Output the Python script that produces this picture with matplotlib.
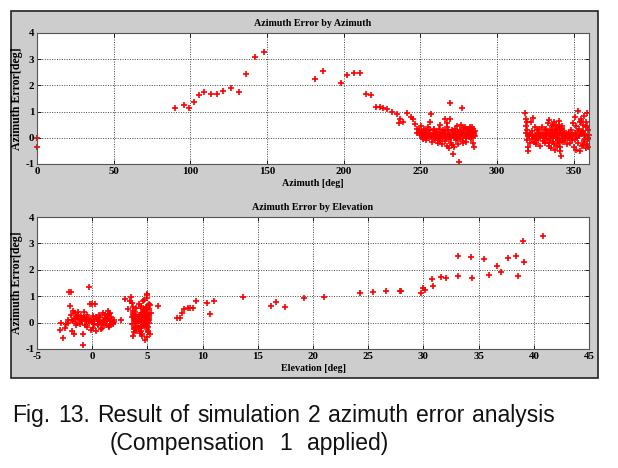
import matplotlib
matplotlib.use("Agg")
from matplotlib import pyplot as plt

plt.rcParams["axes.unicode_minus"] = False

# ---- top plot: azimuth error vs azimuth ----
az_sparse = [0.0, 0.0, 90.2, 95.7, 99.1, 102.2, 105.7, 109.1, 113.3, 117.4, 121.5,
             126.3, 131.5, 136.3, 142.0, 148.0, 181.0, 186.7, 198.0, 202.4, 207.0,
             210.9, 214.8, 217.9, 221.4, 223.7, 225.9, 228.5, 231.8, 234.6, 236.8,
             236.4, 238.6, 241.2, 244.2, 245.1, 246.4, 247.7, 248.1]
err_sparse = [0.0, -0.34, 1.15, 1.27, 1.12, 1.37, 1.64, 1.74, 1.66, 1.68, 1.78,
              1.90, 1.76, 2.44, 3.08, 3.26, 2.26, 2.54, 2.11, 2.39, 2.49,
              2.49, 1.69, 1.62, 1.17, 1.17, 1.15, 1.09, 0.98, 0.91, 0.72,
              0.56, 0.61, 0.94, 0.79, 0.71, 0.51, 0.18, 0.33]

az_a = [249.2, 249.8, 250.3, 250.9, 251.4, 251.8, 252.3, 252.7, 253.1, 253.6, 254.0,
        254.5, 254.9, 255.3, 255.8, 256.2, 256.6, 256.9, 257.3, 257.8, 258.2, 258.6,
        259.1, 259.5, 259.9, 260.4, 260.8, 261.2, 261.7, 262.1, 262.5, 262.9, 263.4,
        263.8, 264.2, 264.6, 265.0, 265.5, 265.9, 266.2, 266.4, 266.8, 267.2, 267.6,
        268.0, 268.4, 268.9, 269.3, 269.5, 269.8, 270.2, 270.6, 271.0, 271.3, 271.7,
        272.1, 272.5, 272.9, 273.3, 273.7, 274.1, 274.5, 275.0, 275.2, 275.6, 276.0,
        276.5, 276.9, 277.3, 277.7, 278.1, 278.5, 278.9, 279.3, 279.7, 280.1, 280.5,
        280.9, 281.3, 281.7, 282.1, 282.5, 282.9, 283.3, 283.7, 284.1, 284.5, 284.8,
        285.1, 285.4, 285.7,
        251.0, 253.0, 255.0, 257.0, 259.0, 261.0, 263.0, 265.0, 267.0, 269.0, 271.0,
        273.0, 275.0, 277.0, 279.0, 281.0, 283.0, 285.0, 252.0, 254.0, 256.0, 258.0,
        260.0, 262.0, 264.0, 266.0, 268.0, 270.0, 272.0, 274.0, 276.0, 278.0, 280.0,
        282.0, 284.0, 250.5, 258.8, 263.1, 267.4, 270.9, 273.6, 276.3, 279.5, 281.9,
        284.6, 262.7, 268.6, 272.4, 274.8, 277.9, 283.6]
err_a = [0.30, 0.12, 0.45, 0.05, 0.22, -0.05, 0.15, 0.33, 0.02, 0.18, -0.10,
         0.25, 0.08, 0.40, -0.02, 0.14, 0.60, 0.90, 0.10, -0.15, 0.20, 0.03,
         0.28, -0.08, 0.12, 0.00, 0.22, -0.20, 0.06, 0.35, 0.10, -0.05, 0.18,
         -0.25, 0.08, 0.30, 0.02, 0.15, -0.12, 0.72, 0.25, 0.05, 0.40, -0.30,
         0.12, -0.05, 0.20, 0.71, 1.32, 0.00, -0.18, 0.28, 0.08, -0.62, 0.15,
         -0.35, 0.35, 0.02, -0.10, 0.22, 0.45, -0.22, -0.91, 0.10, 0.30, -0.05,
         0.18, 1.12, 0.05, 0.38, -0.12, 0.25, 0.10, 0.42, 0.00, 0.20, 0.32,
         0.05, 0.28, 0.15, 0.40, 0.08, 0.22, -0.05, 0.30, 0.12, -0.20, 0.18,
         -0.35, 0.05, 0.25,
         0.10, 0.25, 0.12, 0.02, 0.15, 0.10, 0.05, 0.20, 0.00, 0.10, 0.25,
         0.12, 0.05, 0.18, 0.08, 0.12, 0.15, 0.10, -0.02, 0.10, 0.30, 0.08,
         0.18, 0.00, 0.15, 0.10, 0.28, 0.05, 0.12, 0.00, 0.10, 0.20, 0.02,
         0.25, 0.05, 0.20, 0.35, -0.12, 0.55, -0.28, 0.15, 0.50, -0.15, 0.02,
         0.32, 0.48, -0.40, 0.05, 0.22, -0.18, 0.40]

az_b = [318.5, 318.7, 318.9, 319.1, 319.3, 319.5, 319.7, 319.9, 320.1, 320.3,
        320.8, 321.3, 321.8, 322.2, 322.6, 323.0, 323.4, 323.8, 324.2, 324.6,
        325.0, 325.4, 325.8, 326.2, 326.6, 327.0, 327.4, 327.8, 328.2, 328.6,
        329.0, 329.4, 329.8, 330.2, 330.6, 331.0, 331.4, 331.8, 332.2, 332.6,
        333.0, 333.3, 333.6, 333.9, 334.2, 334.5, 334.8, 335.1, 335.4, 335.7,
        336.0, 336.3, 336.6, 336.9, 337.2, 337.5, 337.8, 338.1, 338.4, 338.7,
        339.0, 339.3, 339.6, 339.9, 340.2, 340.5, 340.8, 341.1, 341.4, 341.8,
        342.1, 342.4, 342.8, 343.2, 343.6, 344.0, 344.5, 345.0, 345.5, 346.0,
        346.5, 347.0, 347.5, 348.0, 348.5, 349.0, 349.4, 349.8, 350.2, 350.6,
        351.0, 351.4, 351.8, 352.2, 352.6, 353.0, 353.4, 353.8, 354.2, 354.6,
        355.0, 355.4, 355.8, 356.2, 356.6, 357.0, 357.4, 357.8, 358.2, 358.6,
        359.0, 359.4, 359.8,
        321.0, 322.9, 324.8, 326.9, 328.9, 330.9, 332.9, 334.6, 336.4, 338.2,
        340.0, 341.6, 343.4, 345.2, 347.2, 349.2, 351.2, 353.2, 355.2, 357.2,
        359.2, 335.9, 337.7, 339.5, 341.3, 343.9, 352.9, 356.9, 358.9, 350.9,
        334.0, 336.8, 338.9, 340.7, 342.6, 354.9, 357.6, 359.6,
        340.4, 341.0, 341.7, 342.3, 339.8, 339.2, 356.4, 357.9, 359.1, 355.7]
err_b = [0.95, 0.70, 0.45, 0.20, -0.10, 0.60, 0.30, -0.35, 0.05, -0.50,
         0.10, -0.20, 0.15, 0.62, -0.05, 0.25, 0.74, 0.05, -0.15, 0.40,
         0.10, -0.25, 0.30, 0.00, 0.18, -0.10, 0.35, 0.05, -0.30, 0.20,
         0.08, 0.42, -0.12, 0.15, 0.00, 0.28, -0.20, 0.10, 0.35, -0.05,
         0.20, 0.55, -0.30, 0.10, 0.68, -0.10, 0.30, 0.05, -0.40, 0.25,
         0.45, -0.15, 0.15, 0.60, -0.25, 0.05, 0.35, -0.45, 0.20, 0.50,
         0.00, -0.30, 0.40, 0.10, 0.65, -0.20, 0.30, -0.50, 0.15, -0.68,
         0.45, 0.00, 0.20, -0.15, 0.05, 0.25, -0.10, 0.10, -0.25, 0.15,
         0.00, 0.20, -0.20, 0.05, 0.30, -0.10, 0.55, 0.10, -0.35, 0.80,
         0.20, -0.45, 0.45, 0.00, 1.03, -0.20, 0.35, 0.60, -0.50, 0.15,
         0.70, -0.30, 0.25, 0.50, -0.10, 0.85, 0.05, -0.40, 0.40, 0.95,
         -0.25, 0.30, 0.10,
         0.05, 0.12, 0.00, 0.15, 0.10, 0.05, 0.20, 0.10, 0.00, 0.15,
         0.10, 0.20, 0.05, 0.10, 0.00, 0.15, 0.10, 0.05, 0.20, 0.12,
         0.00, 0.30, 0.22, -0.08, 0.35, 0.02, 0.25, -0.15, 0.45, -0.05,
         -0.18, 0.48, 0.28, -0.12, 0.38, 0.65, 0.15, -0.35,
         0.50, -0.35, 0.35, 0.12, -0.10, 0.25, -0.28, 0.62, -0.05, 0.22]

# ---- bottom plot: azimuth error vs elevation ----
el_sparse = [5.95, 7.64, 7.95, 8.1, 8.34, 8.64, 8.9, 9.15, 9.4, 10.36, 10.66, 11.06,
             13.69, 16.16, 16.68, 17.43, 19.18, 21.0, 24.27, 25.45, 26.6, 27.9,
             28.0, 29.8, 30.0, 30.1, 30.74, 30.87, 31.62, 32.05, 33.1, 33.1,
             34.35, 34.4, 35.47, 35.95, 36.7, 37.07, 37.7, 38.4, 38.58, 38.98,
             39.13, 40.82]
el_err_sparse = [0.63, 0.18, 0.18, 0.37, 0.53, 0.57, 0.57, 0.54, 0.81, 0.76, 0.32, 0.81,
                 0.97, 0.61, 0.77, 0.58, 0.93, 0.97, 1.12, 1.17, 1.19, 1.18,
                 1.18, 1.14, 1.31, 1.25, 1.66, 1.40, 1.72, 1.68, 2.51, 1.75,
                 2.49, 1.70, 2.40, 1.79, 2.13, 1.93, 2.46, 2.54, 1.78, 3.10,
                 2.28, 3.27]

el_c = [-2.93, -2.80, -2.63, -2.50, -2.35, -2.20, -2.08, -1.96, -2.05, -1.90,
        -1.80, -1.70, -1.60, -1.50, -1.40, -1.30, -1.20, -1.10, -1.00, -0.90,
        -0.88, -0.80, -0.70, -0.60, -0.50, -0.40, -0.30, -0.27, -0.20, -0.10,
        0.00, 0.05, 0.10, 0.15, 0.24, 0.30, 0.40, 0.50, 0.60, 0.70, 0.80,
        0.90, 1.00, 1.10, 1.20, 1.30, 1.40, 1.50, 1.60, 1.70, 1.80, 1.90, 2.00,
        -1.85, -1.65, -1.45, -1.25, -1.05, -0.85, -0.65, -0.45, -0.25, -0.05,
        0.20, 0.45, 0.65, 0.85, 1.05, 1.25, 1.45, 1.65, 1.85, -1.75, -1.35,
        -0.95, -0.55, -0.15, 0.35, 0.75, 1.15, 1.55, 1.95, 1.35, 1.62, 1.48,
        2.63, -2.2, -1.55, -0.75, 0.55, 1.12]
el_err_c = [-0.27, 0.00, -0.57, -0.20, -0.05, 0.10, 1.16, 1.15, 0.63, 0.30,
            -0.30, 0.05, 0.35, -0.10, 0.20, 0.40, 0.15, -0.05, 0.25, 0.10,
            -0.86, -0.45, 0.20, 0.05, -0.15, 0.12, 0.00, 1.34, 0.70, 0.10,
            0.70, -0.20, 0.25, 0.05, 0.70, -0.30, 0.15, -0.10, 0.05, 0.20, -0.25,
            0.00, 0.35, -0.05, 0.10, 0.25, 0.45, -0.15, 0.05, 0.20, 0.10, -0.05, 0.02,
            0.10, -0.45, 0.22, 0.30, 0.08, 0.18, -0.08, 0.28, 0.15, 0.02,
            -0.05, 0.12, 0.30, -0.20, 0.08, -0.10, 0.15, 0.38, 0.00, 0.45, -0.02,
            0.05, 0.15, -0.28, 0.22, 0.02, 0.18, -0.12, 0.10, 0.05, -0.10, 0.32,
            0.09, 0.00, 0.12, 0.42, -0.05, 0.30]

el_d = [3.00, 3.20, 3.45, 3.55, 3.60, 3.65, 3.70, 3.75, 3.80, 3.85, 3.90, 3.95,
        4.00, 3.62, 3.72, 3.82, 3.92, 4.02, 3.68, 3.78, 3.88, 3.98,
        4.20, 4.25, 4.30, 4.35, 4.40, 4.45, 4.50, 4.55, 4.60, 4.65, 4.70, 4.75,
        4.80, 4.85, 4.90, 4.95, 5.00, 5.05, 5.10, 5.15, 5.20,
        4.22, 4.32, 4.42, 4.52, 4.62, 4.72, 4.82, 4.92, 5.02, 5.12, 4.28, 4.38,
        4.48, 4.58, 4.68, 4.78, 4.88, 4.98, 5.08, 5.18, 4.26, 4.36, 4.46, 4.56,
        4.66, 4.76, 4.86, 4.96, 5.06, 4.34, 4.54, 4.74, 4.94, 5.14, 4.44, 4.64,
        4.84, 5.04, 3.58, 3.66, 3.74, 3.86, 3.94, 4.06, 4.14, 5.25, 5.35, 4.90,
        4.98, 4.60,
        4.24, 4.40, 4.57, 4.71, 4.87, 5.01, 5.16, 4.31, 4.49, 4.67, 4.83, 4.99]
el_err_d = [0.90, 0.50, 0.80, 0.97, 0.20, -0.50, 0.60, 0.10, -0.20, 0.40, 0.05, -0.30,
            0.25, -0.05, 0.35, 0.15, -0.15, 0.05, 0.45, -0.35, 0.25, 0.00,
            0.70, 0.10, -0.40, 0.30, 0.55, -0.20, 0.15, -0.50, 0.40, 0.85, -0.10,
            0.20, -0.67, 0.60, 0.00, 0.95, 1.07, -0.30, 0.50, 0.25, -0.45,
            0.05, 0.20, -0.15, 0.35, 0.10, -0.05, 0.45, -0.25, 0.30, 0.00, 0.15,
            -0.30, 0.25, 0.05, 0.40, -0.10, 0.20, 0.60, -0.35, 0.10, 0.30, -0.20,
            0.15, 0.00, 0.25, 0.10, -0.10, 0.35, 0.05, 0.12, 0.08, 0.22, -0.02,
            0.18, 0.02, 0.28, -0.08, 0.14, 0.75, 0.30, -0.25, 0.10, 0.55, 0.20,
            -0.12, 0.65, 0.35, 0.50, 1.05, 0.80,
            -0.25, 0.62, -0.08, 0.48, 0.08, -0.18, 0.70, 0.18, -0.42, 0.52, 0.38, -0.55]

marker_style = dict(linestyle="none", marker="+", color="red", markersize=3.8,
                    markeredgewidth=1.2, clip_on=False)
title_font = dict(family="Liberation Serif", weight="bold", size=7.2)
ylab_font = dict(family="Liberation Serif", weight="bold", size=8.6)

fig = plt.figure(figsize=(6.18, 4.68), dpi=100)
fig.patch.set_facecolor("white")

# gray matlab-like panel
panel = plt.Rectangle((0.0178, 0.1923), 0.9498, 0.7842, transform=fig.transFigure,
                      facecolor="#cdcdcd", edgecolor="#222222", linewidth=1.2, zorder=-1)
fig.patches.append(panel)

ax1 = fig.add_axes([0.0599, 0.6496, 0.8932, 0.2799])
ax2 = fig.add_axes([0.0599, 0.2543, 0.8932, 0.2820])

ax1.plot(az_sparse, err_sparse, **marker_style)
ax1.plot(az_a, err_a, **marker_style)
ax1.plot(az_b, err_b, **marker_style)
ax1.set_xlim(0, 360)
ax1.set_xticks([0, 50, 100, 150, 200, 250, 300, 350])
ax1.set_title("Azimuth Error by Azimuth", pad=5, **title_font)
ax1.set_xlabel("Azimuth [deg]", labelpad=2, **title_font)

ax2.plot(el_sparse, el_err_sparse, **marker_style)
ax2.plot(el_c, el_err_c, **marker_style)
ax2.plot(el_d, el_err_d, **marker_style)
ax2.set_xlim(-5, 45)
ax2.set_xticks([-5, 0, 5, 10, 15, 20, 25, 30, 35, 40, 45])
ax2.set_title("Azimuth Error by Elevation", pad=5, **title_font)
ax2.set_xlabel("Elevation [deg]", labelpad=2, **title_font)

for ax in (ax1, ax2):
    ax.set_facecolor("white")
    ax.set_ylim(-1, 4)
    ax.set_yticks([-1, 0, 1, 2, 3, 4])
    ax.set_ylabel("Azimuth Error[deg]", **ylab_font)
    ax.yaxis.set_label_coords(-0.026, 0.5)
    ax.grid(True, color="#444444", linestyle=(0, (1, 1.5)), linewidth=0.7)
    ax.tick_params(direction="in", length=3, width=0.6, top=True, right=True,
                   pad=2, labelsize=7.8)
    for lbl in ax.get_xticklabels() + ax.get_yticklabels():
        lbl.set_fontfamily("Liberation Serif")
        lbl.set_fontweight("bold")
    for s in ax.spines.values():
        s.set_color("#555555")
        s.set_linewidth(0.8)

# caption, justified word by word like the original
cap_words1 = ["Fig.", "13.", "Result", "of", "simulation", "2", "azimuth", "error", "analysis"]
cap_words2 = ["(Compensation", "1", "applied)"]
cap_font = dict(family="Liberation Sans", size=16.5, color="#111111", va="baseline", ha="left")
renderer = fig.canvas.get_renderer()


def place_line(words, x_left, x_right, y_base):
    texts = [fig.text(0, 1 - y_base / 468, w, **cap_font) for w in words]
    widths = [t.get_window_extent(renderer).width for t in texts]
    gap = (x_right - x_left - sum(widths)) / (len(words) - 1)
    x = x_left
    for t, wd in zip(texts, widths):
        t.set_x(x / 618)
        x += wd + gap


place_line(cap_words1, 12, 555, 422)
place_line(cap_words2, 110, 388, 450)

fig.savefig("out.png", dpi=100)
